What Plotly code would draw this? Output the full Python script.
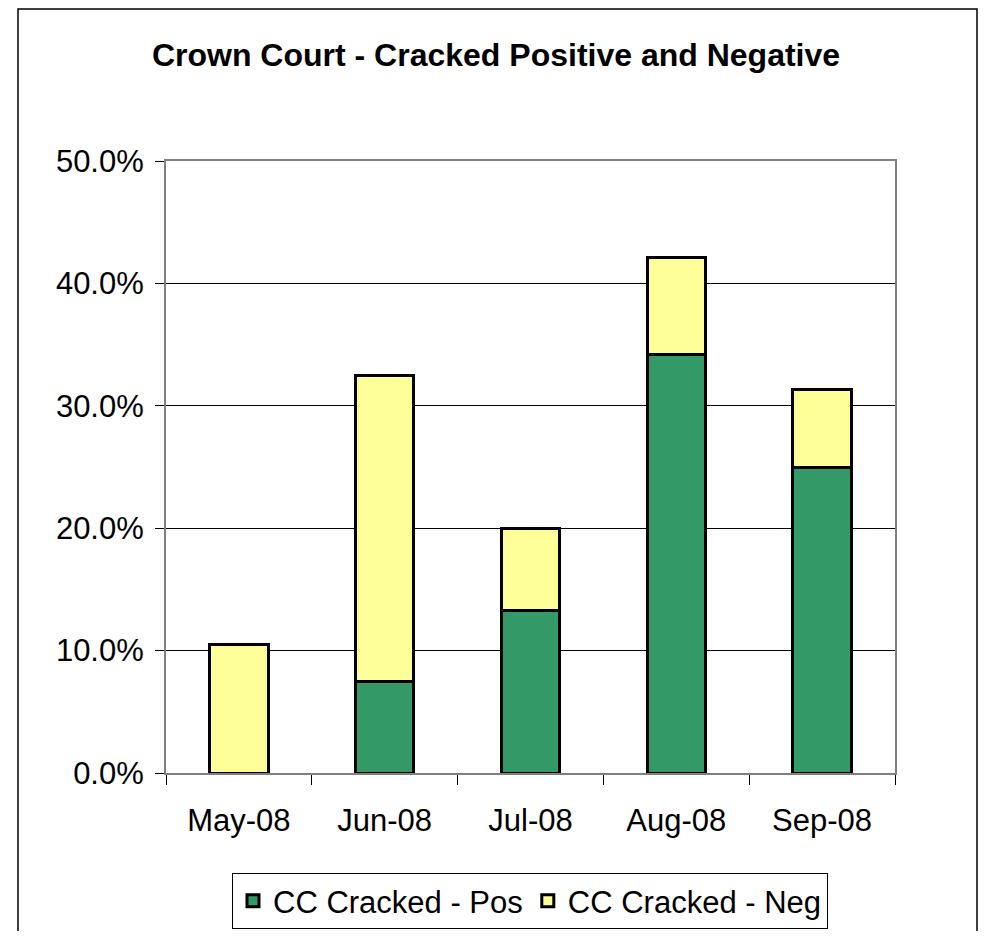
import plotly.graph_objects as go

# 数据
months = ["May-08", "Jun-08", "Jul-08", "Aug-08", "Sep-08"]
cracked_pos = [0.0, 0.075, 0.133, 0.342, 0.250]
cracked_neg = [0.105, 0.250, 0.067, 0.079, 0.063]

FONT = "Liberation Sans, Arial, sans-serif"

# 页面 body 默认 8px 边距：图缩小到不出滚动条，坐标整体补偿
OFF = 8
W, H = 986 - 2 * OFF, 939 - 2 * OFF

# 绘图区（屏幕坐标）
PL, PR, PT, PB = 166, 895, 161, 773
PW, PH = PR - PL, PB - PT


def px(x):
    return (x - PL) / PW


def py(y):
    return (PB - y) / PH


fig = go.Figure()
fig.add_trace(go.Bar(
    x=months, y=cracked_pos, name="CC Cracked - Pos",
    marker=dict(color="#339966", line=dict(color="black", width=3)),
))
fig.add_trace(go.Bar(
    x=months, y=cracked_neg, name="CC Cracked - Neg",
    marker=dict(color="#FFFF99", line=dict(color="black", width=3)),
))

fig.update_layout(
    width=W, height=H,
    barmode="stack", bargap=0.6,
    paper_bgcolor="white", plot_bgcolor="white",
    margin=dict(l=PL - OFF, r=W - (PR - OFF), t=PT - OFF, b=H - (PB - OFF),
                autoexpand=False),
    font=dict(family=FONT, size=31, color="black"),
    title=dict(
        text="<b>Crown Court - Cracked Positive and Negative</b>",
        x=(496 - OFF) / W, xanchor="center", y=1 - (55 - OFF) / H, yanchor="middle",
        font=dict(family=FONT, size=32, color="black"),
    ),
    showlegend=True,
    legend=dict(
        orientation="h", x=px(530), xanchor="center",
        y=py(929), yanchor="bottom",
        bordercolor="black", borderwidth=1,
        font=dict(size=31), traceorder="normal",
        itemwidth=30,
    ),
    shapes=[dict(
        type="rect", xref="paper", yref="paper",
        x0=px(18), x1=px(977),
        y0=py(960), y1=py(OFF + 1),
        line=dict(color="black", width=1.5), fillcolor="rgba(0,0,0,0)",
        layer="below",
    )],
)

fig.update_xaxes(
    showline=True, linecolor="#808080", linewidth=2, mirror=True,
    ticks="outside", tickson="boundaries", ticklen=10, tickcolor="black",
    tickfont=dict(size=31), showgrid=False, ticklabelstandoff=19,
)
fig.update_yaxes(
    range=[0, 0.5], dtick=0.1, tickformat=".1%",
    showline=True, linecolor="#808080", linewidth=2, mirror=True,
    ticks="outside", ticklen=9, tickcolor="black",
    showgrid=True, gridcolor="black", gridwidth=1,
    tickfont=dict(size=31), zeroline=False, ticklabelstandoff=5,
)

fig.write_html("out.html")
